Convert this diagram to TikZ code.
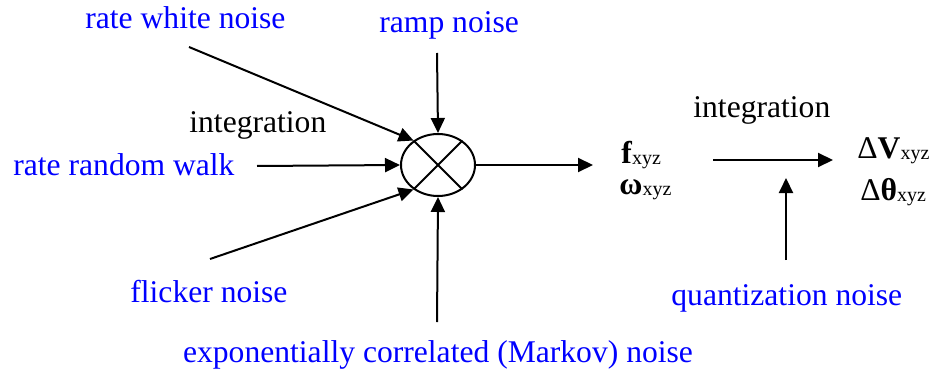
\documentclass[tikz,border=0pt]{standalone}
\usepackage{fontspec}
\setmainfont{Liberation Serif}
\usetikzlibrary{arrows.meta,shapes.geometric}
\tikzset{
  lbl/.style={inner sep=0pt, anchor=base west, font=\fontsize{15.8}{19}\selectfont},
  noise/.style={lbl, text={rgb,255:red,0;green,0;blue,255}},
  arr/.style={line width=1pt, -{Triangle[length=7.5pt,width=7pt]}},
}
\newcommand{\sbs}[1]{\raisebox{-0.8pt}{\fontsize{10}{12}\selectfont #1}}
\begin{document}
\begin{tikzpicture}[x=0.5pt,y=-0.5pt]
\useasboundingbox (0,0) rectangle (935,374);
% summing junction
\node[ellipse, draw, line width=1pt, minimum width=37pt, minimum height=31pt, inner sep=0pt] (S) at (438,165) {};
\draw[line width=1pt] (S.135) -- (S.315);
\draw[line width=1pt] (S.45) -- (S.225);
% labels
\node[noise] (rwn) at (85,29) {rate white noise};
\node[noise] (ramp) at (379,33) {ramp noise};
\node[lbl] (intL) at (189,132) {integration};
\node[noise] (rrw) at (13,175) {rate random walk};
\node[noise] (flk) at (130,302) {flicker noise};
\node[noise, anchor=base] (mark) at (438,362) {exponentially correlated (Markov) noise};
\node[lbl] (fo) at (621,163) {\textbf{f}\sbs{xyz}};
\node[lbl] (om) at (619,194) {\textbf{ω}\sbs{xyz}};
\node[lbl] (intR) at (693,118) {integration};
\node[lbl] (dv) at (857,158) {Δ\textbf{V}\sbs{xyz}};
\node[lbl] (dt) at (860,200) {Δ\textbf{θ}\sbs{xyz}};
\node[noise] (qn) at (671,305) {quantization noise};
% free ends
\coordinate (a1) at (189,47);
\coordinate (a2) at (437,53);
\coordinate (a3) at (257,166);
\coordinate (a4) at (210,259);
\coordinate (a5) at (437,322);
\coordinate (o1) at (593,165);
\coordinate (b1) at (713,160);
\coordinate (b2) at (833,160);
\coordinate (q1) at (786,260);
\coordinate (q2) at (786,178);
% connectors
\draw[arr] (a1) -- (S.135);
\draw[arr] (a2) -- (S.north);
\draw[arr] (a3) -- (S.west);
\draw[arr] (a4) -- (S.225);
\draw[arr] (a5) -- (S.south);
\draw[arr] (S.east) -- (o1);
\draw[arr] (b1) -- (b2);
\draw[arr] (q1) -- (q2);
\end{tikzpicture}
\end{document}
